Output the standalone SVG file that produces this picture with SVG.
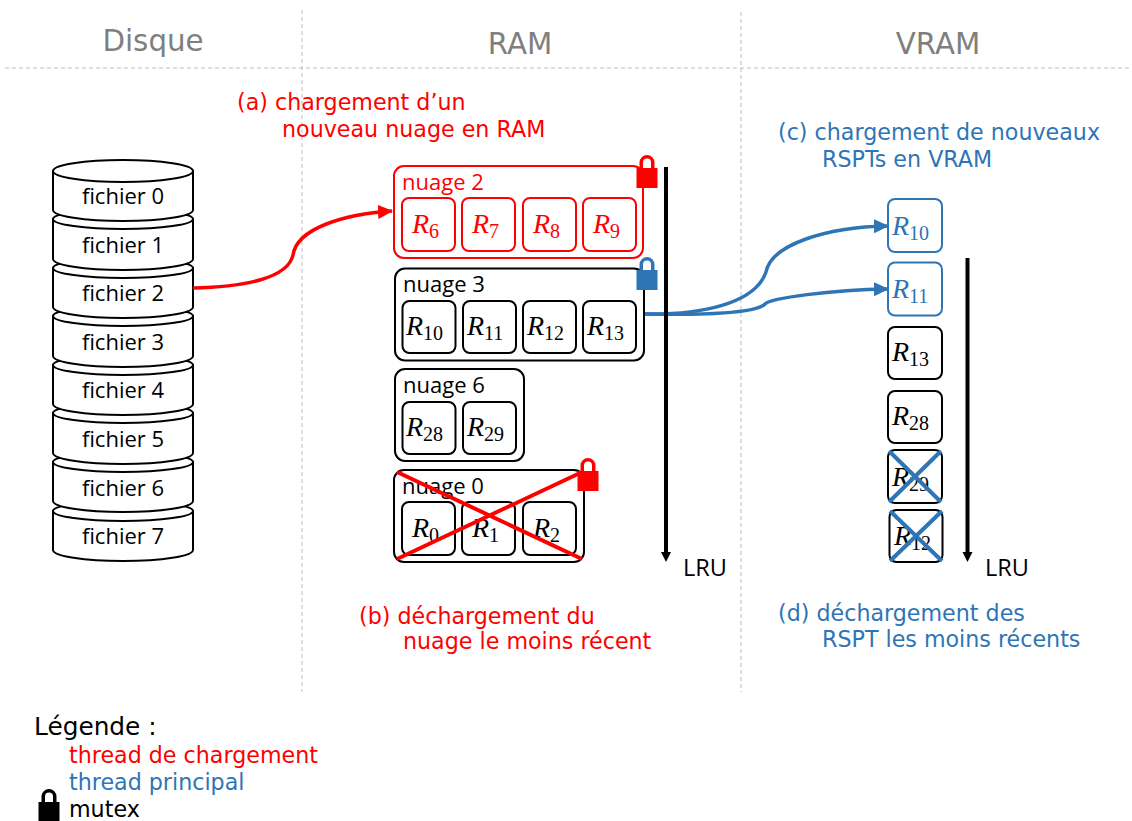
<svg xmlns="http://www.w3.org/2000/svg" width="1132" height="821" viewBox="0 0 1132 821">
<style>
.div{stroke:#bfbfbf;stroke-width:1;stroke-dasharray:4 3;fill:none}
.h{font:29.300px "DejaVu Sans",sans-serif;fill:#7f7f7f;text-anchor:middle}
.t{font:22.200px "DejaVu Sans",sans-serif}
.r{fill:#f00}.b{fill:#2e75b6}.k{fill:#000}
.cyl path,.cyl ellipse{fill:#fff;stroke:#000;stroke-width:2}
.f{font:22px "Open Sans","Noto Sans",sans-serif;text-anchor:middle;fill:#000}
.n{font:22px "Open Sans","Noto Sans",sans-serif}
.l{font:23.500px "Open Sans","Noto Sans",sans-serif;fill:#000}
.box{fill:#fff;stroke-width:2}
.sk{stroke:#000}.sr{stroke:#f00}.sb{stroke:#2e75b6}
.m{font:italic 28px "Liberation Serif",serif}
.s{font-style:normal;font-size:20px}
.x{stroke-width:4;fill:none}
.c{fill:none;stroke-width:3.500}
</style>
<defs>
<path id="lock" d="M-10.500,0H10.500V20H-10.500Z M-7.500,0V-5.500A7.500,7.500 0 0 1 7.500,-5.500V0H4V-5.500A4,4 0 0 0 -4,-5.500V0Z"/>
<marker id="ar" markerUnits="userSpaceOnUse" markerWidth="16" markerHeight="16" refX="14" refY="8" orient="auto"><path d="M0,1L15,8L0,15Z" fill="#f00"/></marker>
<marker id="ab" markerUnits="userSpaceOnUse" markerWidth="16" markerHeight="16" refX="14" refY="8" orient="auto"><path d="M0,1L15,8L0,15Z" fill="#2e75b6"/></marker>
<marker id="ak" markerUnits="userSpaceOnUse" markerWidth="12" markerHeight="12" refX="1" refY="6" orient="auto"><path d="M0,1L10,6L0,11Z" fill="#000"/></marker>
</defs>
<rect width="1132" height="821" fill="#fff"/>
<g id="dividers">
<path class="div" d="M5,68H1132M302,10V692M741,12V692"/>
</g>
<g id="headers">
<text class="h" x="153" y="51">Disque</text>
<text class="h" x="520" y="54">RAM</text>
<text class="h" x="938" y="54">VRAM</text>
</g>
<g id="disk" class="cyl">
<g id="fichier7"><path d="M53,511V550A70,11 0 0 0 193,550V511Z"/><ellipse cx="123" cy="511" rx="70" ry="10"/><text class="f" x="123" y="544">fichier 7</text></g>
<g id="fichier6"><path d="M53,462V501A70,11 0 0 0 193,501V462Z"/><ellipse cx="123" cy="462" rx="70" ry="10"/><text class="f" x="123" y="496">fichier 6</text></g>
<g id="fichier5"><path d="M53,413V453A70,11 0 0 0 193,453V413Z"/><ellipse cx="123" cy="413" rx="70" ry="10"/><text class="f" x="123" y="447">fichier 5</text></g>
<g id="fichier4"><path d="M53,365V404A70,11 0 0 0 193,404V365Z"/><ellipse cx="123" cy="365" rx="70" ry="10"/><text class="f" x="123" y="398">fichier 4</text></g>
<g id="fichier3"><path d="M53,316V356A70,11 0 0 0 193,356V316Z"/><ellipse cx="123" cy="316" rx="70" ry="10"/><text class="f" x="123" y="350">fichier 3</text></g>
<g id="fichier2"><path d="M53,268V307A70,11 0 0 0 193,307V268Z"/><ellipse cx="123" cy="268" rx="70" ry="10"/><text class="f" x="123" y="301">fichier 2</text></g>
<g id="fichier1"><path d="M53,219V259A70,11 0 0 0 193,259V219Z"/><ellipse cx="123" cy="219" rx="70" ry="10"/><text class="f" x="123" y="253">fichier 1</text></g>
<g id="fichier0"><path d="M53,171V210A70,11 0 0 0 193,210V171Z"/><ellipse cx="123" cy="171" rx="70" ry="11"/><text class="f" x="123" y="204">fichier 0</text></g>
</g>
<g id="nuage2">
<rect class="box sr" x="394" y="166" width="249" height="92" rx="10"/>
<text class="n r" x="402" y="190">nuage 2</text>
<rect class="box sr" x="402" y="198" width="53" height="53" rx="7"/><text class="m r" x="412" y="233">R<tspan class="s" dy="5">6</tspan></text>
<rect class="box sr" x="462" y="198" width="53" height="53" rx="7"/><text class="m r" x="472" y="233">R<tspan class="s" dy="5">7</tspan></text>
<rect class="box sr" x="523" y="198" width="53" height="53" rx="7"/><text class="m r" x="533" y="233">R<tspan class="s" dy="5">8</tspan></text>
<rect class="box sr" x="583" y="198" width="53" height="53" rx="7"/><text class="m r" x="593" y="233">R<tspan class="s" dy="5">9</tspan></text>
<use href="#lock" x="647" y="168" class="r"/>
</g>
<g id="nuage3">
<rect class="box sk" x="395" y="268.500" width="249" height="92" rx="10"/>
<text class="n k" x="403" y="292">nuage 3</text>
<rect class="box sk" x="402.500" y="301" width="53" height="52" rx="7"/><text class="m k" x="406" y="335">R<tspan class="s" dy="5">10</tspan></text>
<rect class="box sk" x="463" y="301" width="53" height="52" rx="7"/><text class="m k" x="467" y="335">R<tspan class="s" dy="5">11</tspan></text>
<rect class="box sk" x="523" y="301" width="53" height="52" rx="7"/><text class="m k" x="527" y="335">R<tspan class="s" dy="5">12</tspan></text>
<rect class="box sk" x="583" y="301" width="53" height="52" rx="7"/><text class="m k" x="587" y="335">R<tspan class="s" dy="5">13</tspan></text>
<use href="#lock" x="647" y="270" class="b"/>
</g>
<g id="nuage6">
<rect class="box sk" x="395" y="369" width="129" height="92" rx="10"/>
<text class="n k" x="403" y="393">nuage 6</text>
<rect class="box sk" x="402.500" y="402" width="53" height="52" rx="7"/><text class="m k" x="406" y="436">R<tspan class="s" dy="5">28</tspan></text>
<rect class="box sk" x="463" y="402" width="53" height="52" rx="7"/><text class="m k" x="467" y="436">R<tspan class="s" dy="5">29</tspan></text>
</g>
<g id="nuage0">
<rect class="box sk" x="394" y="470" width="190" height="92" rx="10"/>
<text class="n k" x="402" y="494">nuage 0</text>
<rect class="box sk" x="402" y="502" width="53" height="53" rx="7"/><text class="m k" x="412" y="537">R<tspan class="s" dy="5">0</tspan></text>
<rect class="box sk" x="462" y="502" width="53" height="53" rx="7"/><text class="m k" x="472" y="537">R<tspan class="s" dy="5">1</tspan></text>
<rect class="box sk" x="523" y="502" width="53" height="53" rx="7"/><text class="m k" x="533" y="537">R<tspan class="s" dy="5">2</tspan></text>
<path class="x sr" d="M397,472L582,559M397,559L580,473"/>
<use href="#lock" x="588" y="471" class="r"/>
</g>
<g id="vram">
<g id="v10"><rect class="box sb" x="888" y="199" width="54" height="53" rx="7"/><text class="m b" x="892" y="235">R<tspan class="s" dy="5">10</tspan></text></g>
<g id="v11"><rect class="box sb" x="888" y="262.500" width="54" height="53" rx="7"/><text class="m b" x="892" y="298">R<tspan class="s" dy="5">11</tspan></text></g>
<g id="v13"><rect class="box sk" x="888" y="327" width="54" height="52" rx="7"/><text class="m k" x="892" y="361">R<tspan class="s" dy="5">13</tspan></text></g>
<g id="v28"><rect class="box sk" x="888" y="391" width="54" height="52" rx="7"/><text class="m k" x="892" y="425">R<tspan class="s" dy="5">28</tspan></text></g>
<g id="v29"><rect class="box sk" x="888" y="450" width="54" height="53" rx="7"/><text class="m k" x="892" y="486">R<tspan class="s" dy="5">29</tspan></text><path class="x sb" d="M889,451L941,502M889,502L941,451"/></g>
<g id="v12"><rect class="box sk" x="889.500" y="510" width="53" height="52" rx="7"/><text class="m k" x="894" y="545">R<tspan class="s" dy="5">12</tspan></text><path class="x sb" d="M890,511L942,561M890,561L942,511"/></g>
</g>
<g id="connectors">
<path class="c sr" d="M193,288C245,287 288,278 293,255C297,228 345,214 392,211" marker-end="url(#ar)"/>
<path class="c sb" d="M645,314C700,315 755,304 766,272C771,245 825,227 888,226" marker-end="url(#ab)"/>
<path class="c sb" d="M645,314C700,315 755,314 765,304C771,298 830,290 888,289" marker-end="url(#ab)"/>
<path d="M666,167V553" stroke="#000" stroke-width="4" fill="none" marker-end="url(#ak)"/>
<path d="M967.500,258V553" stroke="#000" stroke-width="4" fill="none" marker-end="url(#ak)"/>
</g>
<g id="labels">
<text class="l" x="683" y="576">LRU</text>
<text class="l" x="985" y="576">LRU</text>
<text class="t r" x="237" y="110">(a) chargement d’un</text>
<text class="t r" x="282" y="137">nouveau nuage en RAM</text>
<text class="t b" x="778" y="140">(c) chargement de nouveaux</text>
<text class="t b" x="822" y="167">RSPTs en VRAM</text>
<text class="t r" x="359" y="624">(b) déchargement du</text>
<text class="t r" x="403" y="649">nuage le moins récent</text>
<text class="t b" x="778" y="621">(d) déchargement des</text>
<text class="t b" x="822" y="647">RSPT les moins récents</text>
</g>
<g id="legend">
<text class="t k" x="34" y="735" style="font-size:24.800px">Légende :</text>
<text class="t r" x="69" y="763">thread de chargement</text>
<text class="t b" x="69" y="790">thread principal</text>
<text class="t k" x="69" y="817">mutex</text>
<use href="#lock" x="49" y="802" class="k"/>
</g>
</svg>
